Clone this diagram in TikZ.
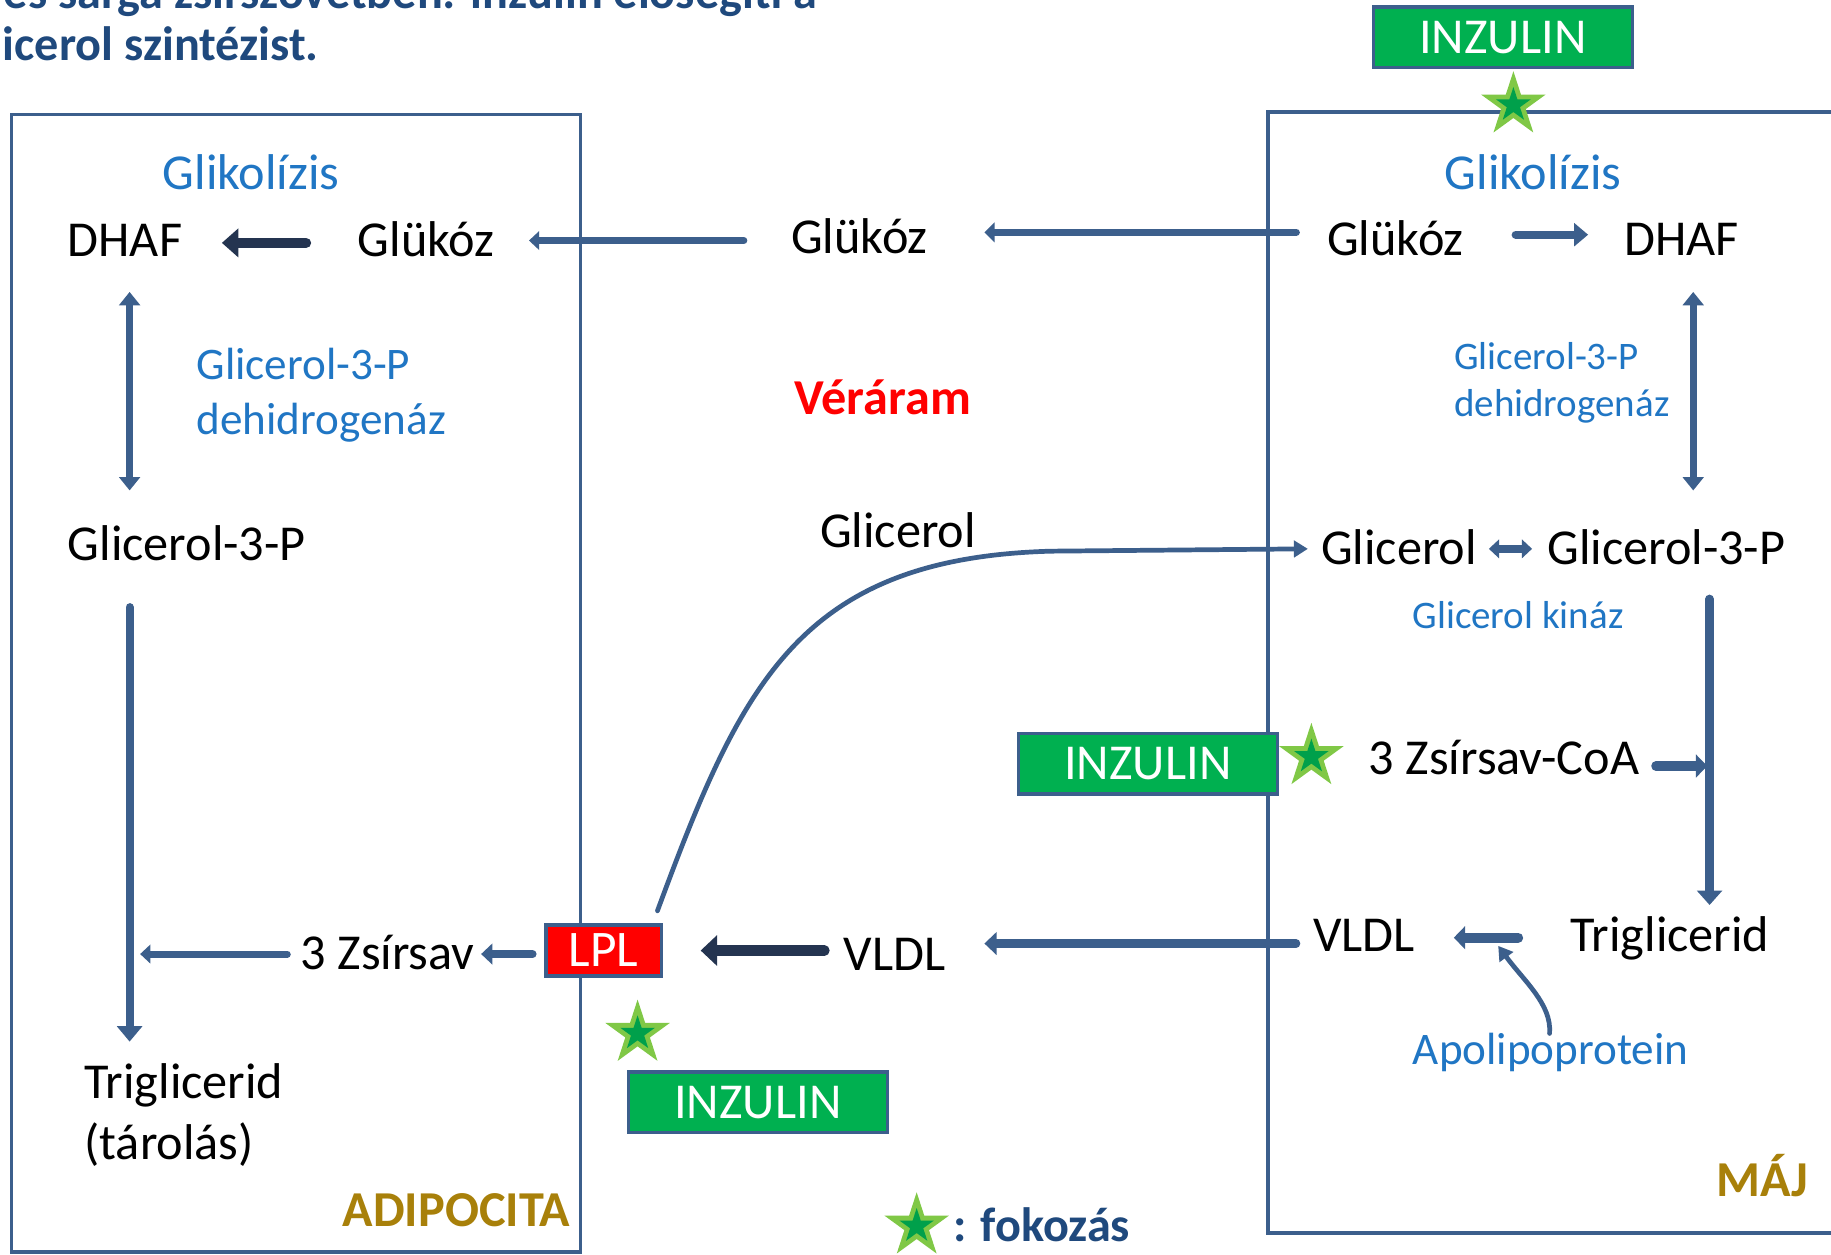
\documentclass[tikz,border=0pt]{standalone}
\usepackage{fontspec}
\setmainfont{Carlito}
\usetikzlibrary{arrows.meta,shapes.geometric}
\definecolor{ab}{RGB}{60,95,140}
\definecolor{abd}{RGB}{36,52,80}
\definecolor{bt}{RGB}{32,118,196}
\definecolor{goldc}{RGB}{168,128,10}
\definecolor{tb}{RGB}{31,73,125}
\definecolor{gfill}{RGB}{0,176,80}
\definecolor{slight}{RGB}{128,200,70}
\definecolor{sdark}{RGB}{0,160,75}
\definecolor{lplred}{RGB}{255,0,0}
\tikzset{
  txt/.style={inner sep=0pt, anchor=base, font=\fontsize{24.5}{29}\selectfont},
  fsA/.style={font=\fontsize{22}{26}\selectfont},
  fsB/.style={font=\fontsize{19}{23}\selectfont},
  fsBold/.style={font=\fontsize{24.5}{29}\selectfont\bfseries},
  fsTitle/.style={font=\fontsize{23.5}{28}\selectfont\bfseries},
  boxl/.style={draw=ab, line width=1.7pt},
  inz/.style={draw=ab, line width=1.7pt, fill=gfill, text=white, minimum width=4.44cm, minimum height=1.04cm, inner sep=0pt, font=\fontsize{24.5}{29}\selectfont},
  lplbox/.style={draw=ab, line width=1.7pt, fill=lplred, text=white, minimum width=1.98cm, minimum height=0.88cm, inner sep=0pt, font=\fontsize{25}{30}\selectfont},
  starO/.style={star, star points=5, star point ratio=2.618, fill=slight, minimum size=1.16cm, inner sep=0pt},
  starI/.style={star, star points=5, star point ratio=2.618, fill=sdark, minimum size=0.62cm, inner sep=0pt},
  ar/.style n args={3}{draw=ab, line width=#1, line cap=round, -{Triangle[width=#2,length=#3]}},
  arD/.style n args={3}{draw=abd, line width=#1, line cap=round, -{Triangle[width=#2,length=#3]}},
  arB/.style n args={3}{draw=ab, line width=#1, {Triangle[width=#2,length=#3]}-{Triangle[width=#2,length=#3]}},
}
\begin{document}
\begin{tikzpicture}[x=0.02cm,y=-0.02cm]
\useasboundingbox (0,0) rectangle (1568,1074);
\clip (0,0) rectangle (1568,1074);
\fill[white] (0,0) rectangle (1568,1074);

% title (first line cut off at the top)
\node[txt, tb, fsTitle, anchor=base east] (t1) at (700,7) {Fehér és sárga zsírszövetben: inzulin elősegíti a};
\node[txt, tb, fsTitle, anchor=base west] (t2) at (2,52) {icerol szintézist.};

% compartments
\draw[boxl] (10,98) rectangle (497,1072);
\draw[boxl] (1620,96) -- (1086,96) -- (1086,1056) -- (1620,1056);

% texts
\node[txt, bt] (glikL) at (215,162) {Glikolízis};
\node[txt] (dL) at (107,220) {DHAF};
\node[txt] (gL) at (365,220) {Glükóz};
\node[txt] (gB) at (736,217) {Glükóz};
\node[txt] (gR) at (1195,219) {Glükóz};
\node[txt] (dR) at (1440,219) {DHAF};
\node[txt, bt] (glikR) at (1313,162) {Glikolízis};
\node[txt, bt, fsA, anchor=base west] (enzL1) at (168,325) {Glicerol-3-P};
\node[txt, bt, fsA, anchor=base west] (enzL2) at (168,372) {dehidrogenáz};
\node[txt, bt, fsB, anchor=base west] (enzR1) at (1245,316) {Glicerol-3-P};
\node[txt, bt, fsB, anchor=base west] (enzR2) at (1245,357) {dehidrogenáz};
\node[txt, fsBold, text=red] (ver) at (756,355) {Véráram};
\node[txt] (g3L) at (160,480) {Glicerol-3-P};
\node[txt] (glB) at (769,469) {Glicerol};
\node[txt] (glR) at (1198,483) {Glicerol};
\node[txt] (g3R) at (1427,483) {Glicerol-3-P};
\node[txt, bt, fsB] (kin) at (1300,538) {Glicerol kináz};
\node[txt] (coa) at (1288,663) {3 Zsírsav-CoA};
\node[txt] (vR) at (1168,815) {VLDL};
\node[txt] (tgR) at (1430,815) {Triglicerid};
\node[txt, bt, fsA] (apo) at (1328,912) {Apolipoprotein};
\node[txt, fsBold, text=goldc] (maj) at (1509,1025) {MÁJ};
\node[txt] (vB) at (766,831) {VLDL};
\node[txt] (zs) at (332,830) {3 Zsírsav};
\node[txt, anchor=base west] (tgL1) at (72,941) {Triglicerid};
\node[txt, anchor=base west] (tgL2) at (72,993) {(tárolás)};
\node[txt, fsBold, text=goldc] (adi) at (391,1050) {ADIPOCITA};
\node[txt, fsTitle, text=tb] (fok) at (892,1063) {: fokozás};

% arrow end points
\coordinate (a1s) at (262,208); \coordinate (a1e) at (190,208);
\coordinate (a2s) at (637,206); \coordinate (a2e) at (453,206);
\coordinate (a3s) at (1110,199); \coordinate (a3e) at (843,199);
\coordinate (a4s) at (1298,201); \coordinate (a4e) at (1360,201);
\coordinate (a5s) at (111,250); \coordinate (a5e) at (111,420);
\coordinate (a6s) at (1450,250); \coordinate (a6e) at (1450,420);
\coordinate (a7s) at (111,520); \coordinate (a7e) at (111,892);
\coordinate (a8s) at (1275,470); \coordinate (a8e) at (1312,470);
\coordinate (a9s) at (1464,513); \coordinate (a9e) at (1464,775);
\coordinate (a10s) at (1418,656); \coordinate (a10e) at (1462,656);
\coordinate (a11s) at (1300,803); \coordinate (a11e) at (1245,803);
\coordinate (a13s) at (1110,808); \coordinate (a13e) at (843,808);
\coordinate (a14s) at (706,814); \coordinate (a14e) at (600,814);
\coordinate (a15s) at (456,817); \coordinate (a15e) at (412,817);
\coordinate (a16s) at (246,817); \coordinate (a16e) at (120,817);
\coordinate (cvs) at (563,780); \coordinate (cve) at (1120,470);
\coordinate (aps) at (1327,885); \coordinate (ape) at (1283,810);

% arrows
\draw[arD={5.1pt}{13.6pt}{8pt}] (a1s) -- (a1e);
\draw[ar={3.4pt}{9pt}{5pt}] (a2s) -- (a2e);
\draw[ar={3.6pt}{9.5pt}{5pt}] (a3s) -- (a3e);
\draw[ar={4pt}{11pt}{6.8pt}] (a4s) -- (a4e);
\draw[arB={3.4pt}{10pt}{6.5pt}] (a5s) -- (a5e);
\draw[arB={3.4pt}{10pt}{6.5pt}] (a6s) -- (a6e);
\draw[ar={4pt}{12pt}{7.5pt}] (a7s) -- (a7e);
\draw[arB={3.6pt}{9pt}{5pt}] (a8s) -- (a8e);
\draw[ar={4.3pt}{12pt}{7pt}] (a9s) -- (a9e);
\draw[ar={4.5pt}{11pt}{5.5pt}] (a10s) -- (a10e);
\draw[ar={5pt}{11pt}{5.5pt}] (a11s) -- (a11e);
\draw[ar={4pt}{11pt}{6pt}] (a13s) -- (a13e);
\draw[arD={5.1pt}{14.5pt}{8pt}] (a14s) -- (a14e);
\draw[ar={4pt}{10pt}{5.5pt}] (a15s) -- (a15e);
\draw[ar={3.4pt}{9pt}{5pt}] (a16s) -- (a16e);
\draw[ar={2.3pt}{8pt}{6.8pt}] (cvs) .. controls (635,585) and (685,478) .. (900,472) -- (cve);
\draw[ar={2.3pt}{8pt}{6.8pt}] (aps) .. controls (1329,860) and (1305,840) .. (ape);

% boxes on top
\node[inz] (inz1) at (1287,32) {INZULIN};
\node[inz] (inz2) at (983,654) {INZULIN};
\node[inz] (inz3) at (649,944) {INZULIN};
\node[lplbox] (lpl) at (517,814) {LPL};

% stars
\node[starO] (s1) at (1296,90) {}; \node[starI] (s1i) at (s1) {};
\node[starO] (s2) at (1123,648) {}; \node[starI] (s2i) at (s2) {};
\node[starO] (s3) at (546,885) {}; \node[starI] (s3i) at (s3) {};
\node[starO] (s4) at (785,1050) {}; \node[starI] (s4i) at (s4) {};
\end{tikzpicture}
\end{document}
